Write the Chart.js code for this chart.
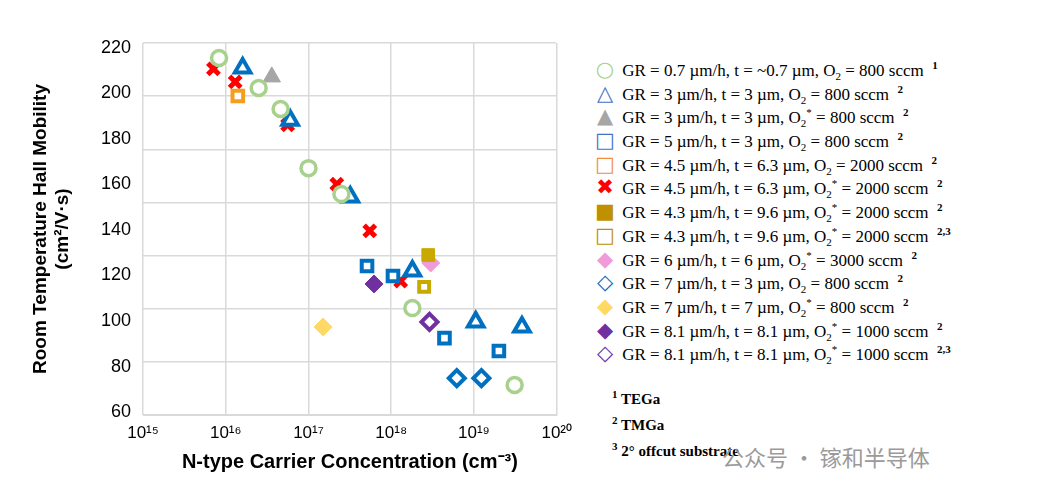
<!DOCTYPE html>
<html><head><meta charset="utf-8">
<script src="https://cdn.jsdelivr.net/npm/chart.js@4"></script>
<style>
body{margin:0;background:#fff;width:1051px;height:500px;overflow:hidden;position:relative;font-family:"Liberation Serif",serif}
#wrap{position:absolute;left:0;top:0;width:580px;height:500px}
#leg{position:absolute;left:592px;top:59px;font-size:17px;color:#000;white-space:nowrap}
#leg div{height:23.7px;line-height:23.7px}
#leg .s{display:inline-block;width:26px;text-align:center;font-size:21px;font-weight:bold;font-family:"DejaVu Sans";line-height:0}
sub,sup{font-size:11px;line-height:0}
#fn{position:absolute;left:612px;top:386px;font-size:15px;font-weight:bold}
#fn div{height:26px;line-height:26px}
#wm{position:absolute;left:722px;top:440px;font-family:"Noto Sans CJK SC";font-size:22px;color:#9a9a9a}
</style></head><body>
<div id="wrap"><canvas id="c" width="580" height="500"></canvas></div>
<div id="leg"></div>
<div id="fn"><div><sup>1</sup> TEGa</div><div><sup>2</sup> TMGa</div><div><sup>3</sup> 2° offcut substrate</div></div>
<div id="wm">公众号 · 镓和半导体</div>
<script>
// concentration (cm^-3) and mobility (cm2/Vs)
const gr07_x=[8.3e15,2.5e16,4.6e16,1.0e17,2.5e17,1.8e18,3.1e19];
const gr07_y=[215.6,202.4,193.2,167.2,155.8,105.7,71.9];
const gr3_x=[1.6e16,6.0e16,3.2e17,1.8e18,1.05e19,3.8e19];
const gr3_y=[211.2,188.3,154.5,122,99.6,97.4];
const gr3s_x=[3.6e16]; const gr3s_y=[207.3];
const gr5_x=[5.1e17,1.05e18,4.4e18,2.0e19]; const gr5_y=[124.2,119.8,92.5,86.8];
const gr45_x=[1.4e16]; const gr45_y=[198.9];
const gr45s_x=[7.1e15,1.3e16,5.6e16,2.2e17,5.5e17,1.3e18]; const gr45s_y=[210.8,205.1,186.2,160.2,139.6,117.6];
const gr43s_x=[2.8e18]; const gr43s_y=[129];
const gr43o_x=[2.5e18]; const gr43o_y=[115];
const gr6_x=[3.0e18]; const gr6_y=[125.5];
const gr7_x=[6.2e18,1.23e19]; const gr7_y=[74.9,74.9];
const gr7s_x=[1.5e17]; const gr7s_y=[97.4];
const gr81_x=[6.2e17]; const gr81_y=[116.3];
const gr81o_x=[2.9e18]; const gr81o_y=[99.6];
const xTicks=[1e15,1e16,1e17,1e18,1e19,1e20];
const yTicks=[60,80,100,120,140,160,180,200,220];
const sup={'0':'⁰','1':'¹','2':'²','5':'⁵','6':'⁶','7':'⁷','8':'⁸','9':'⁹'};
const pts=(xs,ys)=>xs.map((x,i)=>({x,y:ys[i]}));
function ds(xs,ys,style,col,fill,r,bw,rot){return{data:pts(xs,ys),pointStyle:style,borderColor:col,backgroundColor:fill,pointRadius:r,pointBorderWidth:bw,pointRotation:rot||0,showLine:false};}
const W='#fff';
const sets=[
ds(gr07_x,gr07_y,'circle','#a9d18e',W,7.5,3.5),
ds(gr3_x,gr3_y,'triangle','#0070c0',W,9,4),
ds(gr3s_x,gr3s_y,'triangle','#a6a6a6','#a6a6a6',10,1),
ds(gr5_x,gr5_y,'rect','#0070c0',W,7.5,4),
ds(gr45_x,gr45_y,'rect','#f59d1f',W,7.5,4),
ds(gr45s_x,gr45s_y,'crossRot','#ff0000','#ff0000',8,5),
ds(gr43s_x,gr43s_y,'rect','#c9a800','#c9a800',9,1),
ds(gr43o_x,gr43o_y,'rect','#c9a800',W,7,4),
ds(gr6_x,gr6_y,'rectRot','#f09ad8','#f09ad8',9,1),
ds(gr7_x,gr7_y,'rectRot','#0070c0',W,8,4),
ds(gr7s_x,gr7s_y,'rectRot','#ffd966','#ffd966',9,1),
ds(gr81_x,gr81_y,'rectRot','#7030a0','#7030a0',9,1),
ds(gr81o_x,gr81o_y,'rectRot','#7030a0',W,8,4)];
new Chart(document.getElementById('c'),{type:'scatter',data:{datasets:sets},
options:{responsive:false,animation:false,layout:{padding:{left:25,top:43,right:12,bottom:22}},
plugins:{legend:{display:false},tooltip:{enabled:false}},
scales:{
x:{type:'logarithmic',min:1e15,max:1e20,
 afterBuildTicks:s=>{s.ticks=xTicks.map(v=>({value:v}));},
 afterFit:s=>{s.height=63;},
 grid:{color:'#d9d9d9',lineWidth:1.5,drawTicks:false},border:{color:'#d9d9d9'},
 ticks:{color:'#000',padding:8,font:{family:'Liberation Sans',size:17},maxRotation:0,
  callback:v=>'10'+String(Math.round(Math.log10(v))).split('').map(c=>sup[c]).join('')},
 title:{display:true,text:'N-type Carrier Concentration (cm⁻³)',color:'#000',font:{family:'Liberation Sans',size:20,weight:'bold'},padding:{top:4}}},
y:{min:58.7,max:222.2,
 afterBuildTicks:s=>{s.ticks=yTicks.map(v=>({value:v}));},
 afterFit:s=>{s.width=118;},
 grid:{display:false},border:{display:false},
 ticks:{color:'#000',padding:4,font:{family:'Liberation Sans',size:18}},
 title:{display:true,text:['Room Temperature Hall Mobility','(cm²/V·s)'],color:'#000',font:{family:'Liberation Sans',size:19,weight:'bold'},padding:{bottom:2}}},
g:{position:'right',min:0,max:7,afterBuildTicks:s=>{s.ticks=[0,1,2,3,4,5,6,7].map(v=>({value:v}));},
 afterFit:s=>{s.width=0;},ticks:{display:false},border:{color:'#d9d9d9'},
 grid:{color:'#d9d9d9',lineWidth:1.5,drawTicks:false}}
}}});
const L=[
['○','#a9d18e','GR = 0.7 µm/h, t = ~0.7 µm, O<sub>2</sub> = 800 sccm','1'],
['△','#4472c4','GR = 3 µm/h, t = 3 µm, O<sub>2</sub> = 800 sccm','2'],
['▲','#a6a6a6','GR = 3 µm/h, t = 3 µm, O<sub>2</sub><sup>*</sup> = 800 sccm','2'],
['□','#4472c4','GR = 5 µm/h, t = 3 µm, O<sub>2</sub> = 800 sccm','2'],
['□','#f58d3f','GR = 4.5 µm/h, t = 6.3 µm, O<sub>2</sub> = 2000 sccm','2'],
['✖','#ff0000','GR = 4.5 µm/h, t = 6.3 µm, O<sub>2</sub><sup>*</sup> = 2000 sccm','2'],
['■','#bf9000','GR = 4.3 µm/h, t = 9.6 µm, O<sub>2</sub><sup>*</sup> = 2000 sccm','2'],
['□','#bf9000','GR = 4.3 µm/h, t = 9.6 µm, O<sub>2</sub><sup>*</sup> = 2000 sccm','2,3'],
['◆','#f09ad8','GR = 6 µm/h, t = 6 µm, O<sub>2</sub><sup>*</sup> = 3000 sccm','2'],
['◇','#0070c0','GR = 7 µm/h, t = 3 µm, O<sub>2</sub> = 800 sccm','2'],
['◆','#ffd966','GR = 7 µm/h, t = 7 µm, O<sub>2</sub><sup>*</sup> = 800 sccm','2'],
['◆','#7030a0','GR = 8.1 µm/h, t = 8.1 µm, O<sub>2</sub><sup>*</sup> = 1000 sccm','2'],
['◇','#7030a0','GR = 8.1 µm/h, t = 8.1 µm, O<sub>2</sub><sup>*</sup> = 1000 sccm','2,3']];
document.getElementById('leg').innerHTML=L.map(l=>`<div><span class="s" style="color:${l[1]}">${l[0]}</span> ${l[2]} &nbsp;<sup><b>${l[3]}</b></sup></div>`).join('');
</script></body></html>
